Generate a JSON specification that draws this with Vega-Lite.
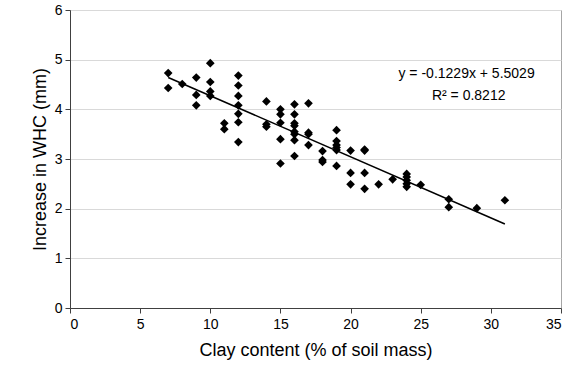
{
  "$schema": "https://vega.github.io/schema/vega-lite/v6.json",
  "width": 491,
  "height": 298,
  "autosize": {"type": "none"},
  "padding": {"left": 70, "top": 10, "right": 14, "bottom": 57},
  "background": "white",
  "config": {
    "font": "Liberation Sans",
    "view": {"stroke": "#a6a6a6", "strokeWidth": 1},
    "axis": {
      "labelFont": "Liberation Sans",
      "titleFont": "Liberation Sans",
      "labelFontSize": 14,
      "titleFontSize": 18,
      "titleFontWeight": "normal",
      "labelColor": "#000000",
      "titleColor": "#000000",
      "domainColor": "#404040",
      "tickColor": "#404040",
      "tickSize": 5,
      "gridColor": "#d9d9d9"
    }
  },
  "datasets": {
    "points": [
      {"clay": 7, "whc": 4.73}, {"clay": 7, "whc": 4.43},
      {"clay": 8, "whc": 4.51},
      {"clay": 9, "whc": 4.64}, {"clay": 9, "whc": 4.29}, {"clay": 9, "whc": 4.08},
      {"clay": 10, "whc": 4.93}, {"clay": 10, "whc": 4.55}, {"clay": 10, "whc": 4.36}, {"clay": 10, "whc": 4.27},
      {"clay": 11, "whc": 3.72}, {"clay": 11, "whc": 3.6},
      {"clay": 12, "whc": 4.68}, {"clay": 12, "whc": 4.48}, {"clay": 12, "whc": 4.27}, {"clay": 12, "whc": 4.08}, {"clay": 12, "whc": 3.91}, {"clay": 12, "whc": 3.74}, {"clay": 12, "whc": 3.34},
      {"clay": 14, "whc": 4.16}, {"clay": 14, "whc": 3.7}, {"clay": 14, "whc": 3.65},
      {"clay": 15, "whc": 4.0}, {"clay": 15, "whc": 3.9}, {"clay": 15, "whc": 3.73}, {"clay": 15, "whc": 3.4}, {"clay": 15, "whc": 2.91},
      {"clay": 16, "whc": 4.1}, {"clay": 16, "whc": 3.9}, {"clay": 16, "whc": 3.72}, {"clay": 16, "whc": 3.67}, {"clay": 16, "whc": 3.55}, {"clay": 16, "whc": 3.5}, {"clay": 16, "whc": 3.38}, {"clay": 16, "whc": 3.06},
      {"clay": 17, "whc": 4.12}, {"clay": 17, "whc": 3.53}, {"clay": 17, "whc": 3.5}, {"clay": 17, "whc": 3.28},
      {"clay": 18, "whc": 3.16}, {"clay": 18, "whc": 2.98}, {"clay": 18, "whc": 2.94},
      {"clay": 19, "whc": 3.58}, {"clay": 19, "whc": 3.36}, {"clay": 19, "whc": 3.28}, {"clay": 19, "whc": 3.23}, {"clay": 19, "whc": 3.18}, {"clay": 19, "whc": 2.86},
      {"clay": 20, "whc": 3.17}, {"clay": 20, "whc": 2.72}, {"clay": 20, "whc": 2.49},
      {"clay": 21, "whc": 3.19}, {"clay": 21, "whc": 3.17}, {"clay": 21, "whc": 2.72}, {"clay": 21, "whc": 2.4},
      {"clay": 22, "whc": 2.49},
      {"clay": 23, "whc": 2.59},
      {"clay": 24, "whc": 2.7}, {"clay": 24, "whc": 2.64}, {"clay": 24, "whc": 2.57}, {"clay": 24, "whc": 2.5}, {"clay": 24, "whc": 2.44},
      {"clay": 25, "whc": 2.48},
      {"clay": 27, "whc": 2.19}, {"clay": 27, "whc": 2.03},
      {"clay": 29, "whc": 2.01},
      {"clay": 31, "whc": 2.17}
    ],
    "trend": [
      {"clay": 7, "whc": 4.6426},
      {"clay": 31, "whc": 1.693}
    ]
  },
  "layer": [
    {
      "data": {"name": "points"},
      "mark": {"type": "point", "shape": "diamond", "filled": true, "color": "#000000", "size": 75, "opacity": 1},
      "encoding": {
        "x": {
          "field": "clay", "type": "quantitative",
          "scale": {"domain": [0, 35], "nice": false, "zero": false},
          "axis": {"values": [0, 5, 10, 15, 20, 25, 30, 35], "grid": false, "title": "Clay content (% of soil mass)", "labelPadding": 4, "titlePadding": 10}
        },
        "y": {
          "field": "whc", "type": "quantitative",
          "scale": {"domain": [0, 6], "nice": false},
          "axis": {"values": [0, 1, 2, 3, 4, 5, 6], "grid": true, "title": "Increase in WHC (mm)", "labelPadding": 3, "titlePadding": 5}
        }
      }
    },
    {
      "data": {"name": "trend"},
      "mark": {"type": "line", "color": "#000000", "strokeWidth": 1.6},
      "encoding": {
        "x": {"field": "clay", "type": "quantitative"},
        "y": {"field": "whc", "type": "quantitative"}
      }
    },
    {
      "data": {"values": [{"label": "y = -0.1229x + 5.5029"}]},
      "mark": {"type": "text", "font": "Liberation Sans", "fontSize": 14, "align": "center", "baseline": "middle", "color": "#000000"},
      "encoding": {
        "x": {"datum": 28.27, "type": "quantitative"},
        "y": {"datum": 4.705, "type": "quantitative"},
        "text": {"field": "label"}
      }
    },
    {
      "data": {"values": [{"label": "R² = 0.8212"}]},
      "mark": {"type": "text", "font": "Liberation Sans", "fontSize": 14, "align": "center", "baseline": "middle", "color": "#000000"},
      "encoding": {
        "x": {"datum": 28.42, "type": "quantitative"},
        "y": {"datum": 4.274, "type": "quantitative"},
        "text": {"field": "label"}
      }
    }
  ]
}
